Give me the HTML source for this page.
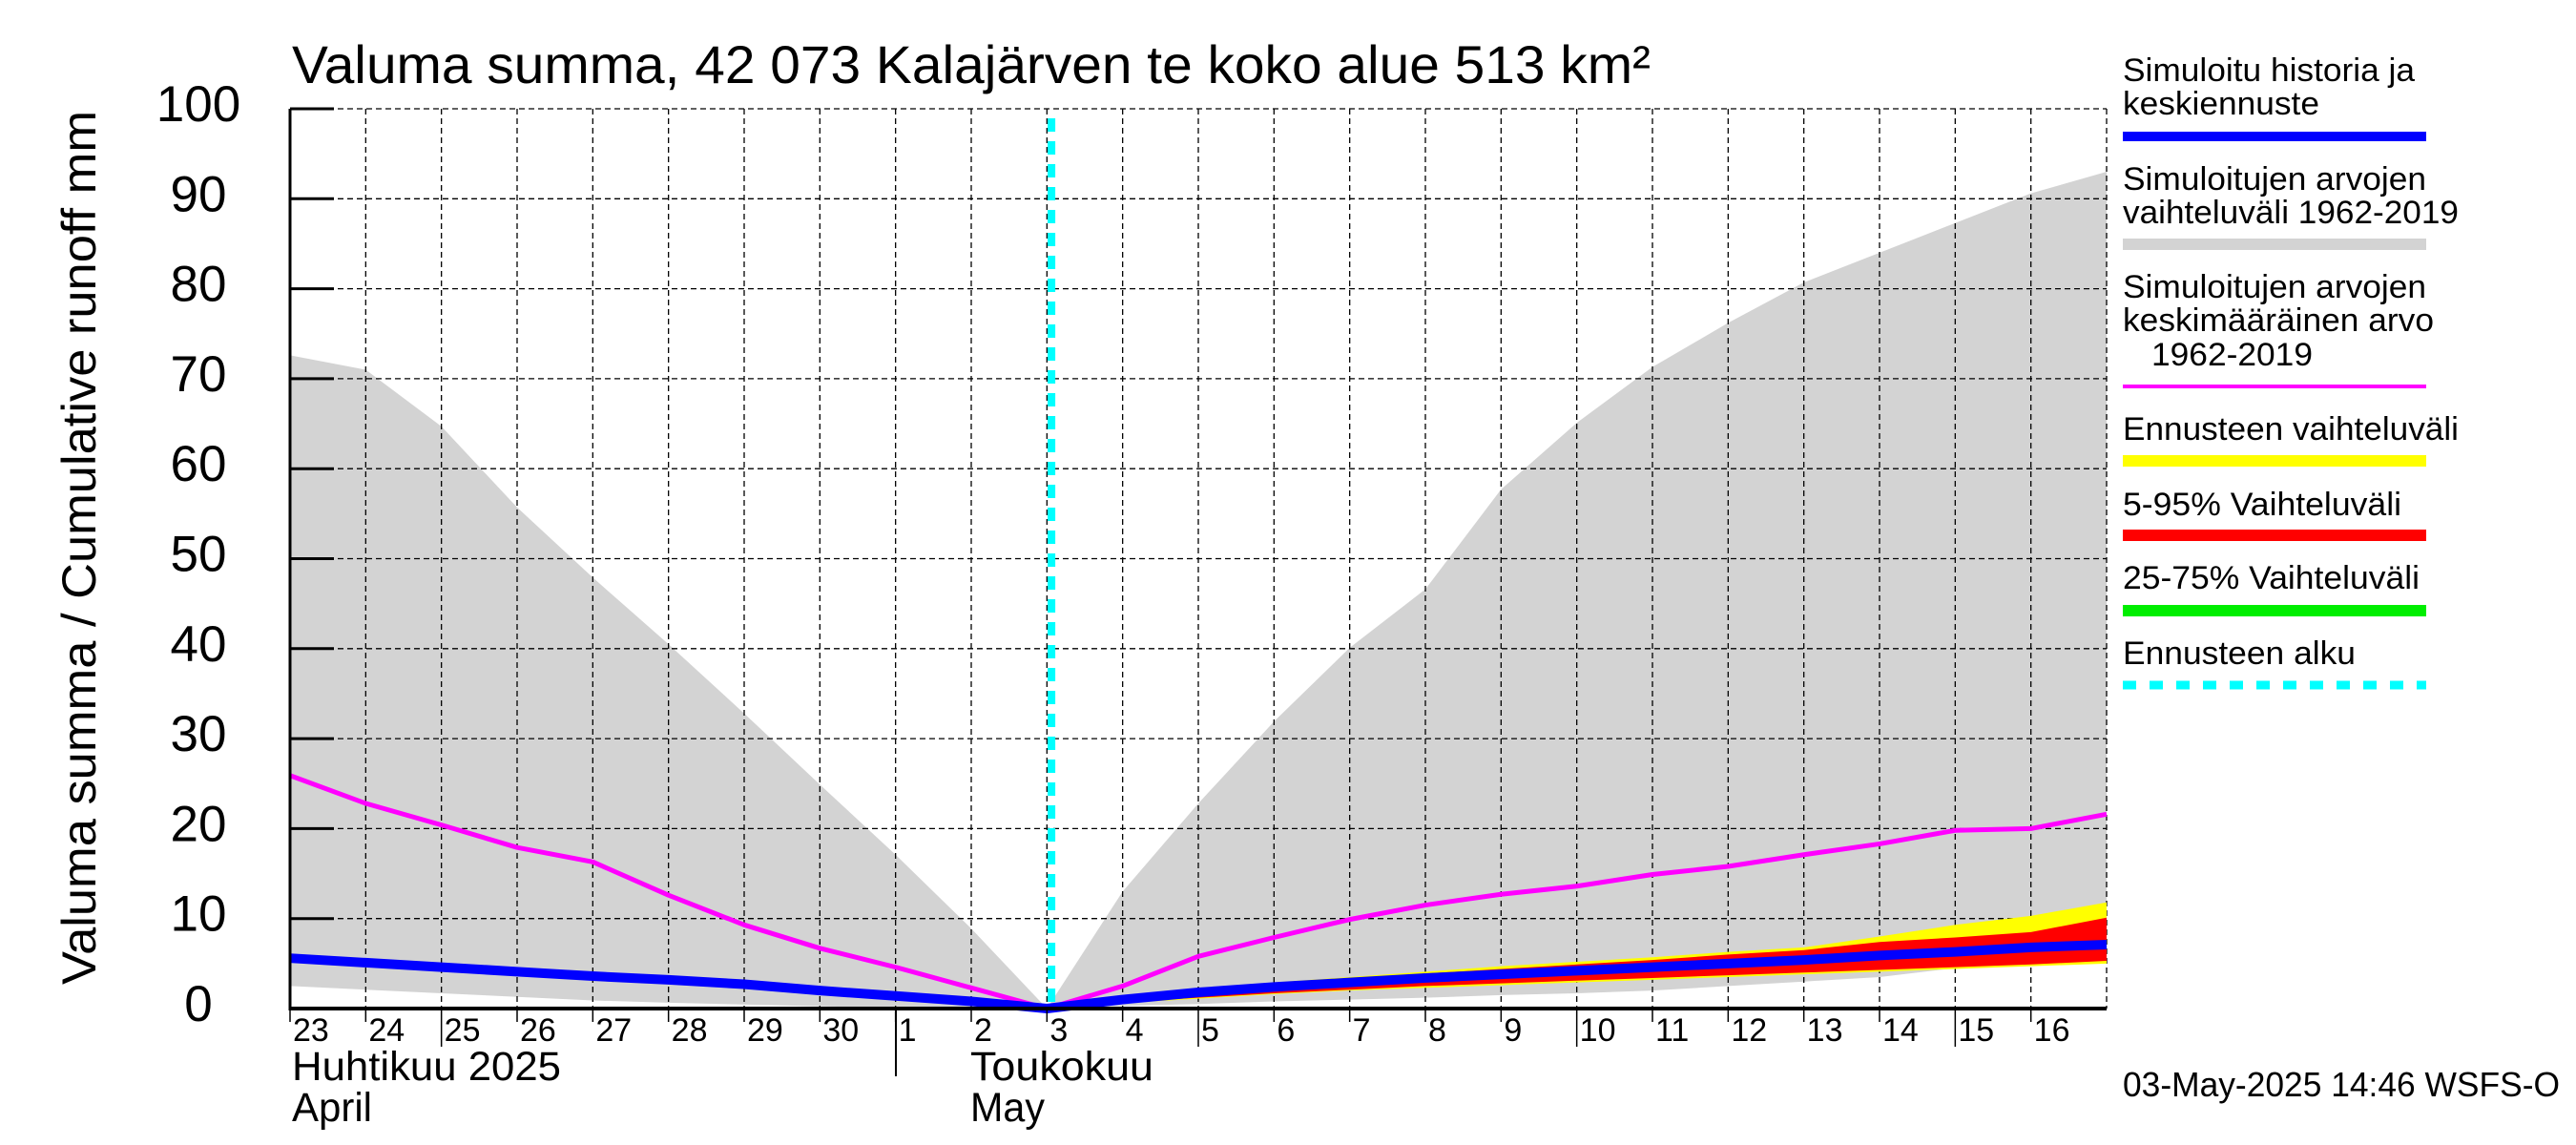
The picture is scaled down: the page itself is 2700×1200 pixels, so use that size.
<!DOCTYPE html>
<html><head><meta charset="utf-8"><style>
html,body{margin:0;padding:0;background:#fff;}
svg{display:block;font-family:"Liberation Sans",Arial,sans-serif;}
</style></head><body>
<svg id="chart" width="2700" height="1200" viewBox="0 0 2700 1200" xmlns="http://www.w3.org/2000/svg">
<rect x="0" y="0" width="2700" height="1200" fill="#fff"/>
<g id="bands"></g>
<text x="306" y="87" font-size="56" textLength="1424" lengthAdjust="spacingAndGlyphs">Valuma summa, 42 073 Kalajärven te koko alue 513 km²</text>
<text transform="translate(100,574) rotate(-90)" text-anchor="middle" font-size="50" textLength="916" lengthAdjust="spacingAndGlyphs">Valuma summa / Cumulative runoff    mm</text>
<text x="306" y="1132" font-size="43" textLength="282" lengthAdjust="spacingAndGlyphs">Huhtikuu  2025</text>
<text x="306" y="1175" font-size="43" textLength="84" lengthAdjust="spacingAndGlyphs">April</text>
<text x="1017" y="1132" font-size="43" textLength="192" lengthAdjust="spacingAndGlyphs">Toukokuu</text>
<text x="1017" y="1175" font-size="43" textLength="78" lengthAdjust="spacingAndGlyphs">May</text>
<line x1="939" y1="1057" x2="939" y2="1128" stroke="#000" stroke-width="2"/>
<text x="2225" y="1149" font-size="36" textLength="458" lengthAdjust="spacingAndGlyphs">03-May-2025 14:46 WSFS-O</text>
<g font-size="34">
<text x="2225" y="85" textLength="306" lengthAdjust="spacingAndGlyphs">Simuloitu historia ja</text>
<text x="2225" y="120" textLength="206" lengthAdjust="spacingAndGlyphs">keskiennuste</text>
<rect x="2225" y="138" width="318" height="10" fill="#0000ff"/>
<text x="2225" y="199" textLength="318" lengthAdjust="spacingAndGlyphs">Simuloitujen arvojen</text>
<text x="2225" y="234" textLength="352" lengthAdjust="spacingAndGlyphs">vaihteluväli 1962-2019</text>
<rect x="2225" y="250" width="318" height="12" fill="#d3d3d3"/>
<text x="2225" y="312" textLength="318" lengthAdjust="spacingAndGlyphs">Simuloitujen arvojen</text>
<text x="2225" y="347" textLength="326" lengthAdjust="spacingAndGlyphs">keskimääräinen arvo</text>
<text x="2255" y="383" textLength="169" lengthAdjust="spacingAndGlyphs">1962-2019</text>
<rect x="2225" y="403" width="318" height="4" fill="#ff00ff"/>
<text x="2225" y="461" textLength="352" lengthAdjust="spacingAndGlyphs">Ennusteen vaihteluväli</text>
<rect x="2225" y="477" width="318" height="12" fill="#ffff00"/>
<text x="2225" y="540" textLength="292" lengthAdjust="spacingAndGlyphs">5-95% Vaihteluväli</text>
<rect x="2225" y="555" width="318" height="12" fill="#ff0000"/>
<text x="2225" y="617" textLength="311" lengthAdjust="spacingAndGlyphs">25-75% Vaihteluväli</text>
<rect x="2225" y="634" width="318" height="12" fill="#00ee00"/>
<text x="2225" y="696" textLength="244" lengthAdjust="spacingAndGlyphs">Ennusteen alku</text>
<line x1="2225" y1="718" x2="2543" y2="718" stroke="#00ffff" stroke-width="9" stroke-dasharray="14,14"/>
</g>
</svg>
<script>
// days since 23 Apr 2025 00:00
const days = [0,1,2,3,4,5,6,7,8,9,10,11,12,13,14,15,16,17,18,19,20,21,22,23,24];
const dayLabels = ["23","24","25","26","27","28","29","30","1","2","3","4","5","6","7","8","9","10","11","12","13","14","15","16"];
const yTicks = [0,10,20,30,40,50,60,70,80,90,100];
const rangeMax = [72.6,71.0,64.7,55.7,47.9,40.5,32.8,24.9,17.1,8.9,0,13.0,22.8,31.9,40.1,46.6,57.7,65.1,71.3,76.2,80.7,84.0,87.3,90.6,93.0];
const rangeMin = [2.5,2.1,1.7,1.3,0.9,0.65,0.45,0.25,0.1,0.05,0,0.3,0.5,0.8,1.0,1.2,1.5,1.7,2.0,2.5,3.0,3.5,4.5,5.3,6.0];
const meanVals = [25.9,22.8,20.4,17.9,16.3,12.6,9.3,6.7,4.6,2.3,0,2.5,5.8,7.9,9.9,11.5,12.7,13.6,14.9,15.8,17.1,18.3,19.8,20.0,21.6];
const historyVals = [5.6,5.1,4.6,4.1,3.6,3.2,2.7,2.0,1.4,0.8,0];
const fcDays = [10,11,12,13,14,15,16,17,18,19,20,21,22,23,24];
const forecastMid = [0,1.0,1.8,2.4,2.9,3.4,3.8,4.2,4.6,5.0,5.4,5.9,6.3,6.8,7.1];
const yellowHi = [0,1.3,2.2,2.9,3.5,4.1,4.7,5.2,5.7,6.3,6.8,8.0,9.3,10.3,11.8];
const yellowLo = [0,0.6,1.1,1.6,2.0,2.3,2.6,2.9,3.2,3.5,3.8,4.1,4.4,4.7,5.0];
const redHi = [0,1.2,2.0,2.7,3.3,3.9,4.4,4.9,5.4,6.0,6.5,7.4,7.9,8.5,10.1];
const redLo = [0,0.7,1.2,1.7,2.1,2.5,2.8,3.1,3.4,3.7,4.0,4.3,4.6,4.9,5.3];
const greenHi = [0,1.1,1.9,2.6,3.1,3.6,4.1,4.5,4.9,5.3,5.8,6.3,6.8,7.2,7.6];
const greenLo = [0,0.9,1.6,2.2,2.7,3.1,3.5,3.9,4.3,4.7,5.1,5.5,5.9,6.4,6.7];
const forecastStart = 10.06;

const X0=304, X1=2208, Y0=1057, Y100=114, DMAX=24;
function xs(d){return X0+(X1-X0)*d/DMAX;}
function ys(v){return Y0-(Y0-Y100)*v/100;}
const NS="http://www.w3.org/2000/svg";
const svg=document.getElementById('chart');
const g=document.getElementById('bands');
function mk(tag,attrs,parent){const e=document.createElementNS(NS,tag);for(const k in attrs)e.setAttribute(k,attrs[k]);(parent||g).appendChild(e);return e;}
function band(xd,hi,lo,fill,name){
  let p=xd.map((d,i)=>xs(d)+','+ys(hi[i]));
  for(let i=xd.length-1;i>=0;i--)p.push(xs(xd[i])+','+ys(lo[i]));
  const e=mk('polygon',{points:p.join(' '),fill:fill});
  
  
}
function line(xd,v,color,w,name){
  const e=mk('polyline',{points:xd.map((d,i)=>xs(d)+','+ys(v[i])).join(' '),fill:'none',stroke:color,'stroke-width':w,'stroke-linejoin':'round'});
  
  
}
band(days,rangeMax,rangeMin,'#d3d3d3','historical-range-band');
// grid
for(const t of yTicks){
  if(t===0)continue;
  const gl=mk('line',{x1:X0,y1:ys(t),x2:X1,y2:ys(t),stroke:'#000','stroke-width':1.3,'stroke-dasharray':'6,4'});
  
  
  const tk=mk('line',{x1:X0,y1:ys(t),x2:X0+46,y2:ys(t),stroke:'#000','stroke-width':3});
  
  
  }
for(let i=1;i<=DMAX;i++){
  const gl=mk('line',{x1:xs(i),y1:Y100,x2:xs(i),y2:Y0,stroke:'#000','stroke-width':1.3,'stroke-dasharray':'6,4'});
  
  
}
band(fcDays,yellowHi,yellowLo,'#ffff00','forecast-range-band');
band(fcDays,redHi,redLo,'#ff0000','band-5-95');
band(fcDays,greenHi,greenLo,'#00ee00','band-25-75');
line(days,meanVals,'#ff00ff',5,'mean-line');
line(days.slice(0,historyVals.length),historyVals,'#0000ff',10,'history-line');
line(fcDays,forecastMid,'#0000ff',10,'forecast-median-line');
const cy=mk('line',{x1:xs(forecastStart),y1:Y100+10,x2:xs(forecastStart),y2:Y0,stroke:'#00ffff','stroke-width':8,'stroke-dasharray':'14,10'});


// axes
const ax=mk('line',{x1:X0,y1:Y100,x2:X0,y2:Y0+2,stroke:'#000','stroke-width':3});


const bx=mk('line',{x1:X0-1,y1:Y0,x2:X1,y2:Y0,stroke:'#000','stroke-width':4});


const longTicks=[2,12,17,22];
for(let i=0;i<DMAX;i++){
  const len=longTicks.includes(i)?40:14;
  const t=mk('line',{x1:xs(i),y1:Y0,x2:xs(i),y2:Y0+len,stroke:'#000','stroke-width':1.5});
  
  
  const tx=mk('text',{x:xs(i)+3,y:1091,'font-size':34});
  tx.textContent=dayLabels[i];
  
  
}
for(const t of yTicks){
  const tx=mk('text',{x:208,y:ys(t)+13,'font-size':53,'text-anchor':'middle'});
  tx.textContent=String(t);
  
  
}
</script>
</body></html>
